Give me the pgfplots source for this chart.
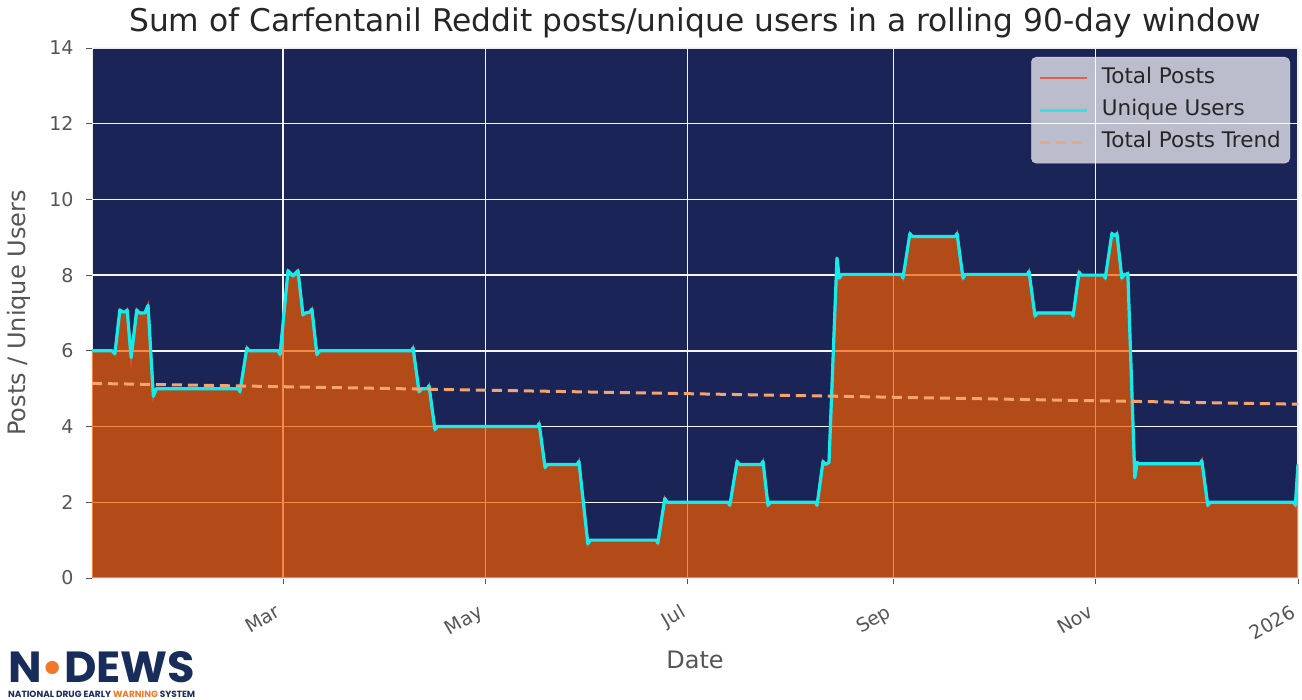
\documentclass[border=0pt]{standalone}
\usepackage{fontspec}
\setmainfont{DejaVu Sans}
\newfontfamily\logofont{Poppins}
\usepackage{pgfplots}
\pgfplotsset{compat=1.18}
\usepackage{pgfplotstable}

\definecolor{navybg}{RGB}{27,36,86}
\definecolor{fillor}{RGB}{244,92,0}
\definecolor{cyanl}{RGB}{20,235,235}
\definecolor{trend}{RGB}{244,164,110}
\definecolor{postred}{RGB}{230,75,50}
\definecolor{tickgray}{RGB}{85,85,85}
\definecolor{logonavy}{RGB}{25,45,90}
\definecolor{logoorange}{RGB}{240,120,40}

\pgfplotstableread{
day val
1.4 6.0
7.5 6.0
8.3 5.92
9.8 7.08
10.6 7.03
11.5 7.03
12.0 7.08
13.2 5.82
14.9 7.08
15.7 7.0
17.3 7.0
17.8 7.1
18.3 7.2
19.9 4.8
20.8 5.0
45.5 5.0
46.0 4.92
48.1 6.08
48.8 6.0
57.6 6.0
58.1 5.9
60.5 8.12
61.2 8.06
62.0 7.98
62.8 8.06
63.5 8.12
65.0 6.95
65.8 7.0
67.0 7.02
67.7 7.1
69.2 5.9
70.0 6.0
97.7 6.0
98.2 6.08
100.0 4.92
100.8 5.0
102.5 5.0
103.0 5.08
104.8 3.92
105.5 4.0
135.7 4.0
136.2 4.08
138.0 2.92
138.7 3.0
147.7 3.0
148.2 3.08
150.9 0.9
151.6 1.0
171.5 1.0
172.0 0.92
174.1 2.1
174.8 2.0
193.2 2.0
193.7 1.92
195.9 3.08
196.6 3.0
203.2 3.0
203.7 3.08
205.2 1.92
205.9 2.0
219.5 2.0
220.0 1.92
221.8 3.08
222.5 3.0
223.6 3.05
226.0 8.45
226.7 7.92
227.4 8.02
245.4 8.02
245.9 7.92
248.0 9.1
248.7 9.02
261.7 9.02
262.2 9.1
264.0 7.92
264.7 8.02
283.4 8.02
283.9 8.1
285.7 6.92
286.4 7.0
296.7 7.0
297.2 6.92
299.0 8.08
299.7 8.0
306.4 8.0
306.9 7.92
308.9 9.1
309.6 9.05
310.0 9.05
310.4 9.1
311.9 7.92
312.6 8.02
313.2 8.02
313.7 8.05
315.8 2.65
316.5 3.05
317.2 3.02
335.5 3.02
336.0 3.1
337.8 1.92
338.5 2.0
363.8 2.0
364.2 1.92
365.0 3.0
}\posts

\begin{document}
\begin{tikzpicture}
\useasboundingbox (0,0) rectangle (1302pt,700pt);
\begin{axis}[
  at={(92pt,122pt)}, anchor=south west,
  width=1206pt, height=530pt, scale only axis,
  xmin=1.4, xmax=365, ymin=0, ymax=14,
  axis background/.style={fill=navybg},
  xtick={59,120,181,243,304,365},
  xticklabels={Mar,May,Jul,Sep,Nov,2026},
  ytick={0,2,...,14},
  grid=major,
  grid style={white!92!gray, line width=1.4pt},
  tick align=outside, tick pos=left,
  major tick length=6pt,
  tick style={tickgray, line width=0.8pt},
  axis line style={draw=white!85!gray, line width=0.8pt},
  ticklabel style={font=\fontsize{19}{22}\selectfont, text=tickgray},
  /pgf/number format/assume math mode=true,
  yticklabel style={xshift=-9pt},
  xticklabel style={xshift=-7pt, yshift=-15pt, rotate=30, anchor=north east},
  xlabel={Date}, ylabel={Posts / Unique Users},
  label style={font=\fontsize{24}{28}\selectfont, text=tickgray},
  xlabel style={at={(axis description cs:0.5,-0.155)}, anchor=center},
  ylabel style={at={(axis description cs:-0.0605,0.5)}, anchor=center},
  title={Sum of Carfentanil Reddit posts/unique users in a rolling 90-day window},
  title style={font=\fontsize{31.3}{36}\selectfont, text=black!85, at={(axis description cs:0.5,1.036)}, anchor=center},
  legend style={at={(axis description cs:1,1)}, anchor=north east, xshift=-8pt, yshift=-9pt,
    fill=white, fill opacity=0.7, text opacity=1, draw=white!80!gray, draw opacity=0.8,
    rounded corners=5pt, font=\fontsize{21.5}{25}\selectfont, text=black!85,
    cells={anchor=west}, inner xsep=7pt, inner ysep=9pt, row sep=8pt,
    nodes={text height=15pt, text depth=5pt}},
  legend image code/.code={\draw[#1] (0pt,0pt) -- (47pt,0pt); \path[draw=none] (0pt,0pt) -- (60pt,0pt);},
]
\addplot[draw=none, fill=fillor, fill opacity=0.7, forget plot] table[x=day,y=val]{\posts} \closedcycle;
\addplot[postred, line width=2.5pt] table[x=day,y=val]{\posts};
\addlegendentry{Total Posts}
\addplot[cyanl, line width=3.2pt, line join=round] table[x=day,y=val]{\posts};
\addlegendentry{Unique Users}
\addplot[trend, line width=3pt, dash pattern=on 10pt off 6pt] coordinates {(1.4,5.14) (365,4.59)};
\addlegendentry{Total Posts Trend}
\end{axis}
\node[anchor=south west, inner sep=0pt, text=logonavy] at (8pt,17pt)
  {\resizebox{187pt}{31pt}{\logofont\bfseries N\textcolor{logoorange}{\textbullet}DEWS}};
\node[anchor=south west, inner sep=0pt, text=logonavy] at (8pt,2pt)
  {\resizebox{187pt}{!}{\logofont\bfseries NATIONAL DRUG EARLY \textcolor{logoorange}{WARNING} SYSTEM}};
\end{tikzpicture}
\end{document}
